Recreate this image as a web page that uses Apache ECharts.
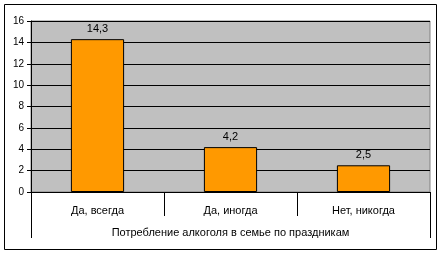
<!DOCTYPE html>
<html>
<head>
<meta charset="utf-8">
<script src="https://cdn.jsdelivr.net/npm/echarts@6/dist/echarts.min.js"></script>
<style>
  html, body { margin: 0; padding: 0; background: #fff; }
  #chart { width: 444px; height: 256px; }
</style>
</head>
<body>
<div id="chart"></div>
<script>
// данные
const categories = ['Да, всегда', 'Да, иногда', 'Нет, никогда'];
const values = [14.3, 4.2, 2.5];
const groupTitle = ['Потребление алкоголя в семье по праздникам'];

const font = 'Liberation Sans, Arial, sans-serif';
const chart = echarts.init(document.getElementById('chart'));

chart.setOption({
    animation: false,
    grid: {
        left: 31,
        right: 14,
        top: 21,
        bottom: 64,
        show: true,
        backgroundColor: '#c0c0c0',
        borderColor: '#808080',
        borderWidth: 1
    },
    xAxis: [{
        type: 'category',
        data: categories,
        axisLine: { lineStyle: { color: '#000', width: 1 } },
        axisTick: { show: true, length: 24, lineStyle: { color: '#000' } },
        axisLabel: { color: '#000', fontFamily: font, fontSize: 11, margin: 13 }
    }, {
        type: 'category',
        position: 'bottom',
        offset: 24,
        data: groupTitle,
        axisLine: { show: false },
        axisTick: { show: true, length: 22, lineStyle: { color: '#000' } },
        axisLabel: { color: '#000', fontFamily: font, fontSize: 11, margin: 11 }
    }],
    yAxis: {
        type: 'value',
        min: 0,
        max: 16,
        interval: 2,
        axisLine: { show: true, lineStyle: { color: '#000' } },
        axisTick: { show: true, length: 4, lineStyle: { color: '#000' } },
        axisLabel: { color: '#000', fontFamily: font, fontSize: 10, margin: 7 },
        splitLine: { lineStyle: { color: '#000', width: 1 } }
    },
    series: [{
        type: 'bar',
        xAxisIndex: 0,
        data: values,
        barWidth: '40%',
        itemStyle: { color: '#ff9900', borderColor: '#000', borderWidth: 1 },
        label: {
            show: true,
            position: 'top',
            distance: 5,
            color: '#000',
            fontFamily: font,
            fontSize: 11,
            formatter: p => String(p.value).replace('.', ',')
        }
    }],
    graphic: [{
        type: 'rect',
        shape: { x: 4.5, y: 4.5, width: 432, height: 245 },
        style: { fill: 'none', stroke: '#000', lineWidth: 1 },
        silent: true
    }]
});
</script>
</body>
</html>
